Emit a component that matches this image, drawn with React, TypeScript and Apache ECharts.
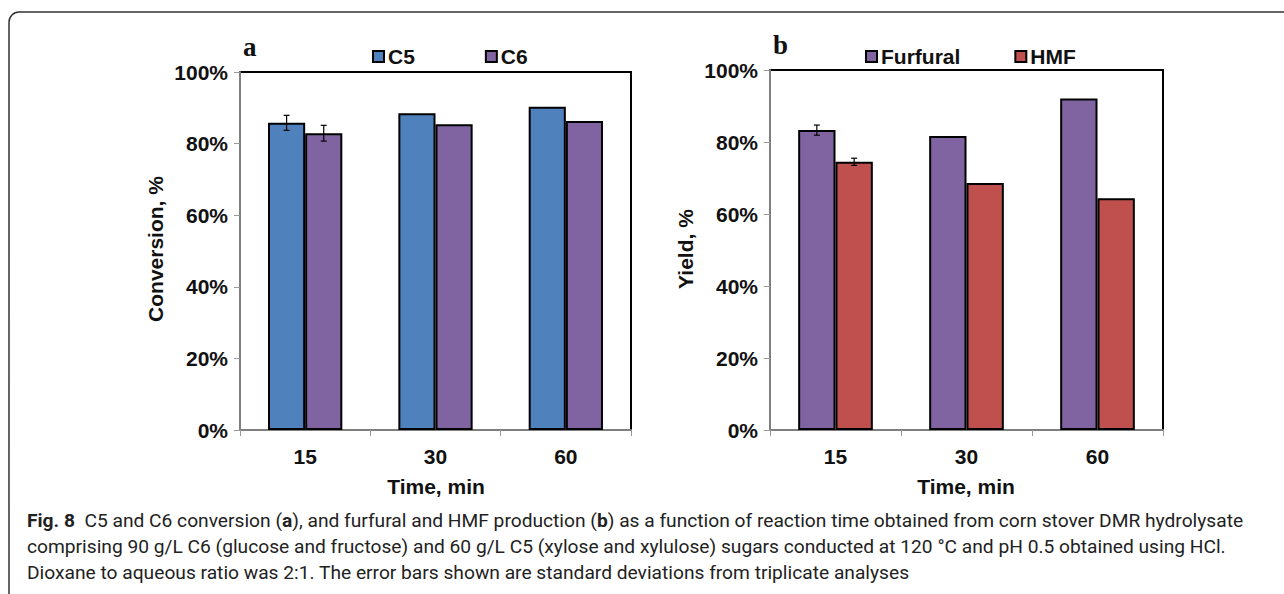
import React, { useEffect, useRef } from "react";
import * as echarts from "echarts";

const times = ["15", "30", "60"];
const c5 = [85.8, 88.5, 90.3];
const c6 = [82.9, 85.4, 86.3];
const c5Err = [2.1, null, null];
const c6Err = [2.2, null, null];
const furfural = [83.3, 81.7, 92.1];
const hmf = [74.5, 68.6, 64.4];
const furfuralErr = [1.4, null, null];
const hmfErr = [1.0, null, null];
const yTicks = [0, 20, 40, 60, 80, 100];

const BLUE = "#4F81BD";
const PURPLE = "#8064A2";
const RED = "#C0504D";
const GAP = 0.43;
const FONT = "'Liberation Sans', Arial, sans-serif";

function errData(vals: number[], errs: (number | null)[]) {
  const out: number[][] = [];
  vals.forEach((v, i) => {
    const e = errs[i];
    if (e != null) out.push([i, v, e]);
  });
  return out;
}

function errSeries(gridIdx: number, vals: number[], errs: (number | null)[], side: number) {
  return {
    type: "custom",
    xAxisIndex: gridIdx,
    yAxisIndex: gridIdx,
    z: 5,
    silent: true,
    data: errData(vals, errs),
    renderItem: (params: any, api: any) => {
      const i = api.value(0);
      const v = api.value(1);
      const e = api.value(2);
      const band = api.size([1, 0])[0];
      const bw = (band * (1 - GAP)) / 2;
      const c = api.coord([i, v]);
      const x = c[0] + (side * bw) / 2;
      const yt = api.coord([i, v + e])[1];
      const yb = api.coord([i, v - e])[1];
      const st = { stroke: "#000", lineWidth: 1.2 };
      return {
        type: "group",
        children: [
          { type: "line", shape: { x1: x, y1: yt, x2: x, y2: yb }, style: st },
          { type: "line", shape: { x1: x - 3, y1: yt, x2: x + 3, y2: yt }, style: st },
          { type: "line", shape: { x1: x - 3, y1: yb, x2: x + 3, y2: yb }, style: st },
        ],
      };
    },
  };
}

function barSeries(name: string, gridIdx: number, data: number[], color: string) {
  return {
    name,
    type: "bar",
    xAxisIndex: gridIdx,
    yAxisIndex: gridIdx,
    data,
    barGap: "0%",
    barCategoryGap: "43%",
    itemStyle: { color, borderColor: "#000", borderWidth: 2 },
  };
}

const tickLabel = { fontFamily: FONT, fontWeight: "bold", fontSize: 21, color: "#111" };

function xAxis(gridIdx: number) {
  return {
    type: "category",
    gridIndex: gridIdx,
    data: times,
    axisLine: { show: true, lineStyle: { color: "#7f7f7f", width: 2 } },
    axisTick: { show: true, length: 6, lineStyle: { color: "#9a9a9a", width: 1 } },
    axisLabel: { ...tickLabel, margin: 16 },
    splitLine: { show: false },
  };
}

function yAxis(gridIdx: number) {
  return {
    type: "value",
    gridIndex: gridIdx,
    min: yTicks[0],
    max: yTicks[yTicks.length - 1],
    interval: yTicks[1] - yTicks[0],
    axisLine: { show: true, lineStyle: { color: "#7f7f7f", width: 2 } },
    axisTick: { show: true, length: 6, lineStyle: { color: "#9a9a9a", width: 1 } },
    axisLabel: { ...tickLabel, margin: 12, formatter: "{value}%" },
    splitLine: { show: false },
  };
}

const titleStyle = { fontFamily: FONT, fontWeight: "bold", fontSize: 21, fill: "#111" };
const capFont = "Roboto, sans-serif";
const capSize = 19.2;

export default function App() {
  const ref = useRef<HTMLDivElement>(null);
  useEffect(() => {
    const chart = echarts.init(ref.current!, null, { renderer: "svg" });
    chart.setOption({
      animation: false,
      backgroundColor: "#fff",
      grid: [
        { left: 240, top: 72, right: 653, bottom: 164, show: true, borderColor: "#000", borderWidth: 2, backgroundColor: "transparent" },
        { left: 770, top: 70, right: 121, bottom: 164, show: true, borderColor: "#000", borderWidth: 2, backgroundColor: "transparent" },
      ],
      xAxis: [xAxis(0), xAxis(1)],
      yAxis: [yAxis(0), yAxis(1)],
      legend: [
        {
          data: ["C5", "C6"],
          left: 367,
          top: 41,
          itemGap: 70,
          itemWidth: 11,
          itemHeight: 11,
          icon: "rect",
          textStyle: { ...tickLabel, padding: [0, 0, 0, -1] },
        },
        {
          data: ["Furfural", "HMF"],
          left: 860,
          top: 41,
          itemGap: 54,
          itemWidth: 11,
          itemHeight: 11,
          icon: "rect",
          textStyle: { ...tickLabel, padding: [0, 0, 0, -1] },
        },
      ],
      series: [
        barSeries("C5", 0, c5, BLUE),
        barSeries("C6", 0, c6, PURPLE),
        barSeries("Furfural", 1, furfural, PURPLE),
        barSeries("HMF", 1, hmf, RED),
        errSeries(0, c5, c5Err, -1),
        errSeries(0, c6, c6Err, 1),
        errSeries(1, furfural, furfuralErr, -1),
        errSeries(1, hmf, hmfErr, 1),
      ],
      graphic: [
        {
          type: "rect",
          shape: { x: 9, y: 12, width: 1320, height: 640, r: 10 },
          style: { fill: "none", stroke: "#333", lineWidth: 1.5 },
          z: 0,
        },
        { type: "text", x: 243, y: 47, style: { text: "a", font: "bold 27px 'Liberation Serif', serif", fill: "#111", textVerticalAlign: "middle" } },
        { type: "text", x: 773, y: 45, style: { text: "b", font: "bold 27px 'Liberation Serif', serif", fill: "#111", textVerticalAlign: "middle" } },
        { type: "text", x: 155, y: 249, rotation: Math.PI / 2, style: { ...titleStyle, text: "Conversion, %", textAlign: "center", textVerticalAlign: "middle" } },
        { type: "text", x: 685, y: 249, rotation: Math.PI / 2, style: { ...titleStyle, text: "Yield, %", textAlign: "center", textVerticalAlign: "middle" } },
        { type: "text", x: 436, y: 486, style: { ...titleStyle, text: "Time, min", textAlign: "center", textVerticalAlign: "middle" } },
        { type: "text", x: 966, y: 486, style: { ...titleStyle, text: "Time, min", textAlign: "center", textVerticalAlign: "middle" } },
        {
          type: "text",
          x: 27,
          y: 520,
          style: {
            text: "{b|Fig. 8}  C5 and C6 conversion ({b|a}), and furfural and HMF production ({b|b}) as a function of reaction time obtained from corn stover DMR hydrolysate",
            fontFamily: capFont,
            fontSize: capSize,
            fill: "#222",
            textVerticalAlign: "middle",
            rich: { b: { fontFamily: capFont, fontSize: capSize, fontWeight: "bold", fill: "#222" } },
          },
        },
        {
          type: "text",
          x: 27,
          y: 546,
          style: {
            text: "comprising 90 g/L C6 (glucose and fructose) and 60 g/L C5 (xylose and xylulose) sugars conducted at 120 °C and pH 0.5 obtained using HCl.",
            fontFamily: capFont,
            fontSize: capSize,
            fill: "#222",
            textVerticalAlign: "middle",
          },
        },
        {
          type: "text",
          x: 27,
          y: 572,
          style: {
            text: "Dioxane to aqueous ratio was 2:1. The error bars shown are standard deviations from triplicate analyses",
            fontFamily: capFont,
            fontSize: capSize,
            fill: "#222",
            textVerticalAlign: "middle",
          },
        },
      ],
    });
    return () => chart.dispose();
  }, []);
  return (
    <div
      ref={ref}
      style={{ position: "fixed", left: 0, top: 0, width: 1284, height: 594, background: "#fff" }}
    />
  );
}
